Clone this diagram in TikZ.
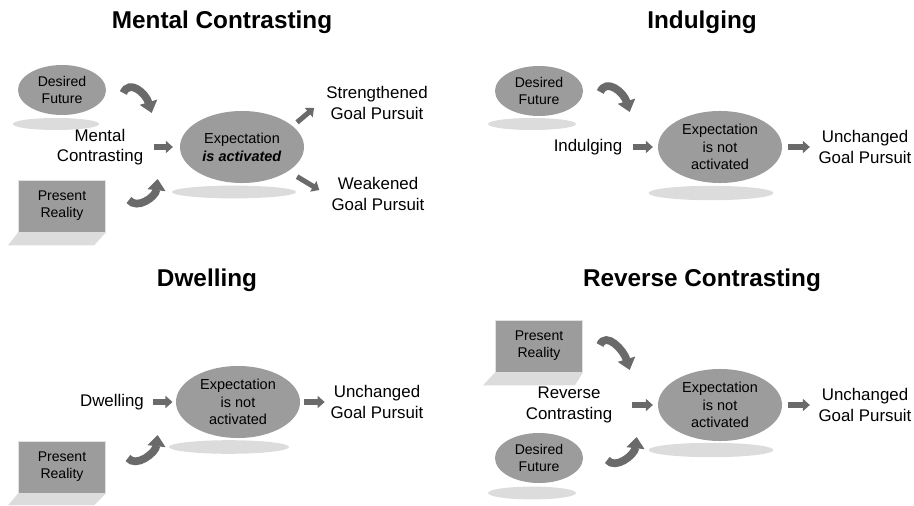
\documentclass[tikz,border=0pt]{standalone}
\usepackage{fontspec}
\setmainfont{Liberation Sans}
\usetikzlibrary{shapes.geometric,arrows.meta,positioning,calc}
\definecolor{nodegray}{HTML}{9C9C9C}
\definecolor{arrowgray}{HTML}{6A6A6A}
\definecolor{groundgray}{HTML}{DCDCDC}
\tikzset{
  expell/.style={ellipse, fill=nodegray, minimum width=3.1cm, minimum height=1.8cm,
    inner sep=0pt, align=center, font=\fontsize{10.3}{12.6}\selectfont},
  futell/.style={ellipse, fill=nodegray, minimum width=2.2cm, minimum height=1.25cm,
    inner sep=0pt, align=center, font=\fontsize{10}{12.2}\selectfont},
  realbox/.style={rectangle, fill=nodegray, draw=white!70!nodegray, line width=0.6pt,
    minimum width=2.175cm, minimum height=1.3cm, align=center, font=\fontsize{10}{12.2}\selectfont},
  steptext/.style={align=center, inner sep=0pt, font=\fontsize{12}{14.5}\selectfont},
  paneltitle/.style={font=\fontsize{17.3}{20}\selectfont\bfseries},
  groundshade/.style={fill=groundgray},
  fatarrow/.style={draw=arrowgray, line width=3.6pt, -{Triangle[length=5pt,width=8.5pt]}},
  bentarrow/.style={draw=arrowgray, line width=5.5pt, -{Triangle[length=8pt,width=12.5pt]}},
}

\begin{document}
\begin{tikzpicture}[x=0.025cm,y=-0.025cm]
    \useasboundingbox (0,0) rectangle (914,506);

    % Mental Contrasting
    \node[paneltitle] (t1) at (222,22) {Mental Contrasting};
    \node[futell] (df1) at (62,90) {Desired\\Future};
    \node[realbox] (pr1) at (62,206) {Present\\Reality};
    \node[steptext] (mc1) at (100,147) {Mental\\Contrasting};
    \node[expell] (exp1) at (242,147) {Expectation\\\textbf{\textit{is activated}}};
    \node[steptext] (sg1) at (377,103) {Strengthened\\Goal Pursuit};
    \node[steptext] (wg1) at (378,194) {Weakened\\Goal Pursuit};
    \fill[groundshade] ($(df1)+(-6,34)$) ellipse [x radius=1.08cm, y radius=0.15cm];
    \fill[groundshade] ($(exp1)+(-8,45)$) ellipse [x radius=1.55cm, y radius=0.16cm];
    \fill[groundshade] (pr1.south west) -- (pr1.south east) -- ++(-12,13) -- ++(-86,0) -- cycle;
    \draw[bentarrow] ($(df1.east)+(17,3)$) .. controls +(6,-14) and +(-6,-20) .. ($(exp1.west)+(-28,-34)$);
    \draw[bentarrow] ($(pr1.east)+(23,-6)$) .. controls +(8,10) and +(-2,18) .. ($(exp1.west)+(-22,32)$);
    \draw[fatarrow, shorten <=0.27cm, shorten >=0.17cm] (mc1.east) -- (exp1.west);
    \draw[fatarrow] ($(exp1.north east)+(11,1)$) -- ($(sg1.west)+(-12,5)$);
    \draw[fatarrow] ($(exp1.south east)+(11,4)$) -- ($(wg1.west)+(-12,-4)$);

    % Indulging
    \node[paneltitle] (t2) at (702,22) {Indulging};
    \node[futell] (df2) at (539,91) {Desired\\Future};
    \node[steptext] (ind2) at (588,147) {Indulging};
    \node[expell] (exp2) at (720,147) {Expectation\\is not\\activated};
    \node[steptext] (ug2) at (865,147) {Unchanged\\Goal Pursuit};
    \fill[groundshade] ($(df2)+(-7,33)$) ellipse [x radius=1.1cm, y radius=0.15cm];
    \fill[groundshade] ($(exp2)+(-9,46)$) ellipse [x radius=1.56cm, y radius=0.18cm];
    \draw[bentarrow] ($(df2.east)+(17,1)$) .. controls +(6,-14) and +(-6,-20) .. ($(exp2.west)+(-28,-35)$);
    \draw[fatarrow, shorten <=0.25cm, shorten >=0.12cm] (ind2.east) -- (exp2.west);
    \draw[fatarrow, shorten <=0.15cm, shorten >=0.21cm] (exp2.east) -- (ug2.west);

    % Dwelling
    \node[paneltitle] (t3) at (207,280) {Dwelling};
    \node[steptext] (dw3) at (112,402) {Dwelling};
    \node[expell] (exp3) at (238,402) {Expectation\\is not\\activated};
    \node[steptext] (ug3) at (377,402) {Unchanged\\Goal Pursuit};
    \node[realbox] (pr3) at (62,467) {Present\\Reality};
    \fill[groundshade] ($(exp3)+(-9,45)$) ellipse [x radius=1.5cm, y radius=0.17cm];
    \fill[groundshade] (pr3.south west) -- (pr3.south east) -- ++(-12,12) -- ++(-86,0) -- cycle;
    \draw[bentarrow] ($(pr3.east)+(22,-9)$) .. controls +(8,10) and +(-2,18) .. ($(exp3.west)+(-18,33)$);
    \draw[fatarrow, shorten <=0.22cm, shorten >=0.08cm] (dw3.east) -- (exp3.west);
    \draw[fatarrow, shorten <=0.1cm, shorten >=0.14cm] (exp3.east) -- (ug3.west);

    % Reverse Contrasting
    \node[paneltitle] (t4) at (702,280) {Reverse Contrasting};
    \node[realbox] (pr4) at (539,346) {Present\\Reality};
    \node[steptext] (rc4) at (569,405) {Reverse\\Contrasting};
    \node[expell] (exp4) at (720,405) {Expectation\\is not\\activated};
    \node[steptext] (ug4) at (865,405) {Unchanged\\Goal Pursuit};
    \node[futell] (df4) at (539,458) {Desired\\Future};
    \fill[groundshade] (pr4.south west) -- (pr4.south east) -- ++(-8,13) -- ++(-92,0) -- cycle;
    \fill[groundshade] ($(exp4)+(-9,45)$) ellipse [x radius=1.56cm, y radius=0.18cm];
    \fill[groundshade] ($(df4)+(-7,35)$) ellipse [x radius=1.1cm, y radius=0.16cm];
    \draw[bentarrow] ($(pr4.east)+(17,-1)$) .. controls +(6,-14) and +(-6,-20) .. ($(exp4.west)+(-28,-35)$);
    \draw[bentarrow] ($(df4.east)+(24,2)$) .. controls +(8,10) and +(-2,18) .. ($(exp4.west)+(-21,32)$);
    \draw[fatarrow, shorten <=0.5cm, shorten >=0.12cm] (rc4.east) -- (exp4.west);
    \draw[fatarrow, shorten <=0.15cm, shorten >=0.21cm] (exp4.east) -- (ug4.west);
\end{tikzpicture}
\end{document}
